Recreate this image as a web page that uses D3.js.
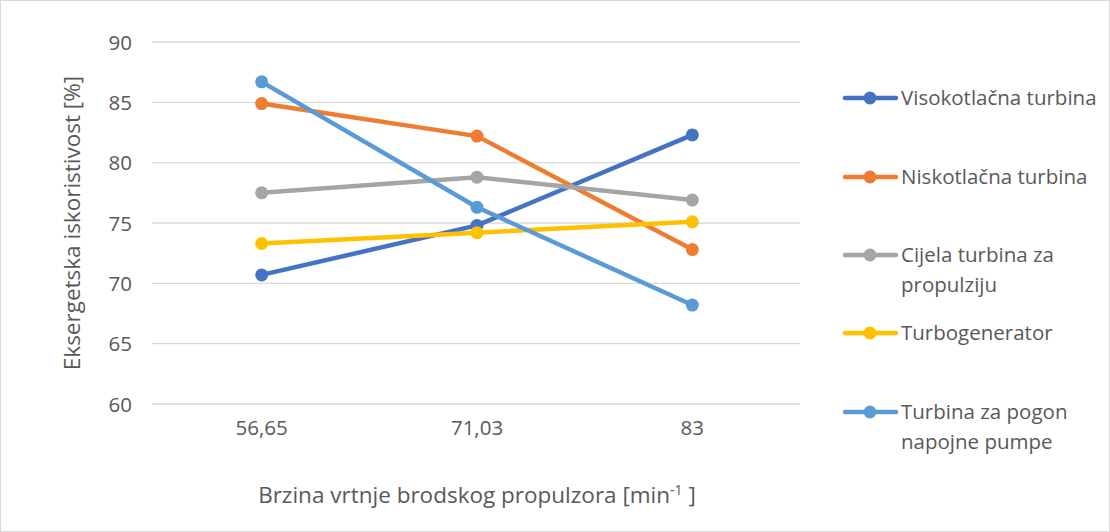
<!DOCTYPE html>
<html lang="hr">
<head>
<meta charset="UTF-8">
<title>Eksergetska iskoristivost</title>
<style>
  body { margin: 0; background: #fff; }
  text { font-family: "Open Sans", "Liberation Sans", sans-serif; fill: #595959; }
</style>
</head>
<body>
<script src="https://cdn.jsdelivr.net/npm/d3@7"></script>
<div id="chart"></div>
<script>
// podaci s grafa
const categories = ["56,65", "71,03", "83"];
const seriesNames = ["Visokotlačna turbina", "Niskotlačna turbina", "Cijela turbina za propulziju", "Turbogenerator", "Turbina za pogon napojne pumpe"];
const visokotlacna = [70.7, 74.8, 82.3];
const niskotlacna = [84.9, 82.2, 72.8];
const cijela = [77.5, 78.8, 76.9];
const turbogenerator = [73.3, 74.2, 75.1];
const pogonPumpe = [86.7, 76.3, 68.2];
const yTicks = [60, 65, 70, 75, 80, 85, 90];
const colors = ["#4472C4", "#ED7D31", "#A5A5A5", "#FFC000", "#5B9BD5"];

const series = [visokotlacna, niskotlacna, cijela, turbogenerator, pogonPumpe]
  .map((v, i) => ({ name: seriesNames[i], values: v, color: colors[i] }));

const W = 1110, H = 532;
const plot = { left: 154, right: 800, top: 42, bottom: 404 };

const svg = d3.select("#chart").append("svg")
  .attr("width", W).attr("height", H);

// okvir
svg.append("rect")
  .attr("x", 0.5).attr("y", 0.5)
  .attr("width", W - 1).attr("height", H - 1)
  .attr("fill", "#fff").attr("stroke", "#d9d9d9");

const x = d3.scaleBand().domain(categories).range([plot.left, plot.right]);
const y = d3.scaleLinear().domain([60, 90]).range([plot.bottom, plot.top]);

// mreža
svg.append("g")
  .selectAll("line")
  .data(yTicks)
  .enter().append("line")
  .attr("x1", plot.left - 2).attr("x2", plot.right)
  .attr("y1", d => y(d)).attr("y2", d => y(d))
  .attr("stroke", "#d9d9d9").attr("stroke-width", 1.3);

// os y
const yAxis = svg.append("g")
  .attr("transform", "translate(" + plot.left + ",0)")
  .call(d3.axisLeft(y).tickValues(yTicks).tickSize(0).tickPadding(22));
yAxis.select(".domain").remove();
yAxis.selectAll("text").style("font-size", "20.5px").attr("fill", "#595959")
  .attr("dy", "0.35em");

// os x
const xAxis = svg.append("g")
  .attr("transform", "translate(0," + plot.bottom + ")")
  .call(d3.axisBottom(x).tickSize(0).tickPadding(16));
xAxis.select(".domain").remove();
xAxis.selectAll("text").style("font-size", "20.5px").attr("fill", "#595959");

// naslovi osi
svg.append("text")
  .attr("transform", "translate(80," + (plot.top + plot.bottom) / 2 + ") rotate(-90)")
  .attr("text-anchor", "middle")
  .style("font-size", "22.5px")
  .text("Eksergetska iskoristivost [%]");

const xt = svg.append("text")
  .attr("x", (plot.left + plot.right) / 2).attr("y", 503)
  .attr("text-anchor", "middle")
  .style("font-size", "22.5px");
xt.append("tspan").text("Brzina vrtnje brodskog propulzora [min");
xt.append("tspan").attr("dy", -8).style("font-size", "14px").text("-1");
xt.append("tspan").attr("dy", 8).text(" ]");

// linije
const line = d3.line()
  .x((d, i) => x(categories[i]) + x.bandwidth() / 2)
  .y(d => y(d));

const g = svg.append("g");
series.forEach(s => {
  g.append("path")
    .attr("d", line(s.values))
    .attr("fill", "none")
    .attr("stroke", s.color)
    .attr("stroke-width", 4.5)
    .attr("stroke-linecap", "round")
    .attr("stroke-linejoin", "round");
  g.selectAll(null)
    .data(s.values)
    .enter().append("circle")
    .attr("cx", (d, i) => x(categories[i]) + x.bandwidth() / 2)
    .attr("cy", d => y(d))
    .attr("r", 6.5)
    .attr("fill", s.color);
});

// legenda
const legendRows = [
  { y: 98, lines: ["Visokotlačna turbina"] },
  { y: 177, lines: ["Niskotlačna turbina"] },
  { y: 255, lines: ["Cijela turbina za", "propulziju"] },
  { y: 333, lines: ["Turbogenerator"] },
  { y: 412, lines: ["Turbina za pogon", "napojne pumpe"] }
];
const leg = svg.append("g");
series.forEach((s, i) => {
  const r = legendRows[i];
  leg.append("line")
    .attr("x1", 845).attr("x2", 896)
    .attr("y1", r.y).attr("y2", r.y)
    .attr("stroke", s.color).attr("stroke-width", 4.5)
    .attr("stroke-linecap", "round");
  leg.append("circle")
    .attr("cx", 870).attr("cy", r.y).attr("r", 6.5)
    .attr("fill", s.color);
  r.lines.forEach((t, j) => {
    leg.append("text")
      .attr("x", 901).attr("y", r.y + j * 30)
      .attr("dy", "0.35em")
      .style("font-size", "20.5px")
      .text(t);
  });
});
</script>
</body>
</html>
